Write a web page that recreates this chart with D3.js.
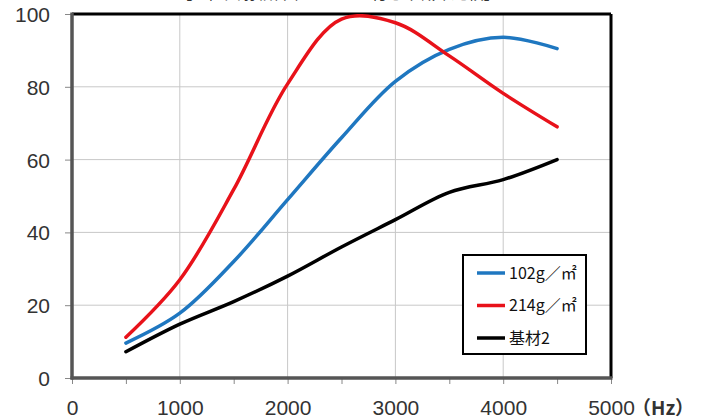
<!DOCTYPE html>
<html>
<head>
<meta charset="utf-8">
<script src="https://cdn.jsdelivr.net/npm/d3@7"></script>
<style>
  body { margin: 0; background: #fff; }
  svg { display: block; }
</style>
</head>
<body>
<script>
var svgWidth = 701;
var svgHeight = 419;

// data
var freqs = [500, 1000, 1500, 2000, 2500, 3000, 3500, 4000, 4500];
var s102 = [9.6, 17.8, 32, 49, 66, 81.5, 90.3, 93.6, 90.5];
var s214 = [11.2, 27, 51.8, 80.8, 98.6, 97.6, 88.5, 78.2, 69];
var sBase = [7.2, 14.8, 21, 28, 36, 43.5, 51, 54.5, 60];
var seriesNames = ["102g／㎡", "214g／㎡", "基材2"];
var xTicks = [0, 1000, 2000, 3000, 4000, 5000];
var yTicks = [0, 20, 40, 60, 80, 100];

var margin = { top: 14, right: 90, bottom: 41, left: 72 };
var width = svgWidth - margin.left - margin.right;
var height = svgHeight - margin.top - margin.bottom;

var svg = d3.select("body").append("svg")
  .attr("width", svgWidth)
  .attr("height", svgHeight);

// title, mostly cut off at the top edge in the original
svg.append("text")
  .attr("x", 338).attr("y", -1.5)
  .attr("text-anchor", "middle")
  .style("font-family", "'Noto Sans CJK JP'")
  .style("font-size", "16px")
  .attr("fill", "#333")
  .text("【垂直入射吸音率 フィルム付き不織布比較】");

var chartGroup = svg.append("g")
  .attr("transform", `translate(${margin.left}, ${margin.top})`);

var x = d3.scaleLinear().domain([0, 5000]).range([0, width]);
var y = d3.scaleLinear().domain([0, 100]).range([height, 0]);

// gridlines
chartGroup.append("g")
  .selectAll("line.vg")
  .data(xTicks.slice(1, -1))
  .enter().append("line")
  .attr("x1", d => x(d)).attr("x2", d => x(d))
  .attr("y1", 0).attr("y2", height)
  .attr("stroke", "#c8c8c8").attr("stroke-width", 1);

chartGroup.append("g")
  .selectAll("line.hg")
  .data(yTicks.slice(1, -1))
  .enter().append("line")
  .attr("x1", 0).attr("x2", width)
  .attr("y1", d => y(d)).attr("y2", d => y(d))
  .attr("stroke", "#c8c8c8").attr("stroke-width", 1);

// axes
var bottomAxis = d3.axisBottom(x).tickValues(d3.range(0, 5001, 500))
  .tickSize(6).tickFormat(d => d % 1000 === 0 ? d : "");
var leftAxis = d3.axisLeft(y).tickValues(yTicks).tickSize(7);

var xg = chartGroup.append("g")
  .attr("transform", `translate(0, ${height})`)
  .call(bottomAxis);
var yg = chartGroup.append("g").call(leftAxis);

[xg, yg].forEach(function(g) {
  g.select(".domain").remove();
  g.selectAll(".tick line").attr("stroke", "#888").attr("stroke-width", 1);
  g.selectAll(".tick text")
    .style("font-family", "'Liberation Sans', Arial, sans-serif")
    .style("font-size", "21px")
    .attr("fill", "#333");
});
xg.selectAll(".tick text").attr("dy", 0).attr("y", 37);
yg.selectAll(".tick text").attr("x", -22).attr("dy", "0.36em");

// unit label after 5000
chartGroup.append("text")
  .attr("x", x(5000) + 21).attr("y", height + 37)
  .style("font-family", "'Noto Sans CJK JP'")
  .style("font-size", "19px")
  .style("font-weight", "bold")
  .attr("fill", "#333")
  .text("（Hz）");

// plot frame
chartGroup.append("line").attr("x1", 0).attr("x2", width).attr("y1", 0).attr("y2", 0)
  .attr("stroke", "#000").attr("stroke-width", 3);
chartGroup.append("line").attr("x1", width).attr("x2", width).attr("y1", 0).attr("y2", height)
  .attr("stroke", "#000").attr("stroke-width", 3);
chartGroup.append("line").attr("x1", 0).attr("x2", 0).attr("y1", -1.5).attr("y2", height + 1.5)
  .attr("stroke", "#555").attr("stroke-width", 3.5);
chartGroup.append("line").attr("x1", -1.5).attr("x2", width + 1.5).attr("y1", height).attr("y2", height)
  .attr("stroke", "#555").attr("stroke-width", 3.5);

// lines
var line = d3.line()
  .x((d, i) => x(freqs[i]))
  .y(d => y(d))
  .curve(d3.curveCatmullRom.alpha(0.5));

var series = [
  { name: seriesNames[0], values: s102, color: "#1f77c0" },
  { name: seriesNames[1], values: s214, color: "#e8121a" },
  { name: seriesNames[2], values: sBase, color: "#000" }
];

chartGroup.append("defs").append("clipPath").attr("id", "clip")
  .append("rect").attr("x", 0).attr("y", 0).attr("width", width).attr("height", height);

chartGroup.append("g").attr("clip-path", "url(#clip)")
  .selectAll("path")
  .data(series)
  .enter().append("path")
  .attr("d", d => line(d.values))
  .attr("fill", "none")
  .attr("stroke", d => d.color)
  .attr("stroke-width", 3.5)
  .attr("stroke-linecap", "round");

// legend
var legend = svg.append("g").attr("transform", "translate(463, 255)");
legend.append("rect")
  .attr("width", 123).attr("height", 99)
  .attr("fill", "#fff").attr("stroke", "#000").attr("stroke-width", 2);

var item = legend.selectAll("g.item")
  .data(series)
  .enter().append("g")
  .attr("transform", (d, i) => `translate(0, ${18 + i * 32.5})`);
item.append("line")
  .attr("x1", 14).attr("x2", 42)
  .attr("stroke", d => d.color).attr("stroke-width", 3.5);
item.append("text")
  .attr("x", 46).attr("dy", "0.35em")
  .style("font-family", "'Noto Sans CJK JP'")
  .style("font-size", "16px")
  .attr("fill", "#111")
  .text(d => d.name);
</script>
</body>
</html>
